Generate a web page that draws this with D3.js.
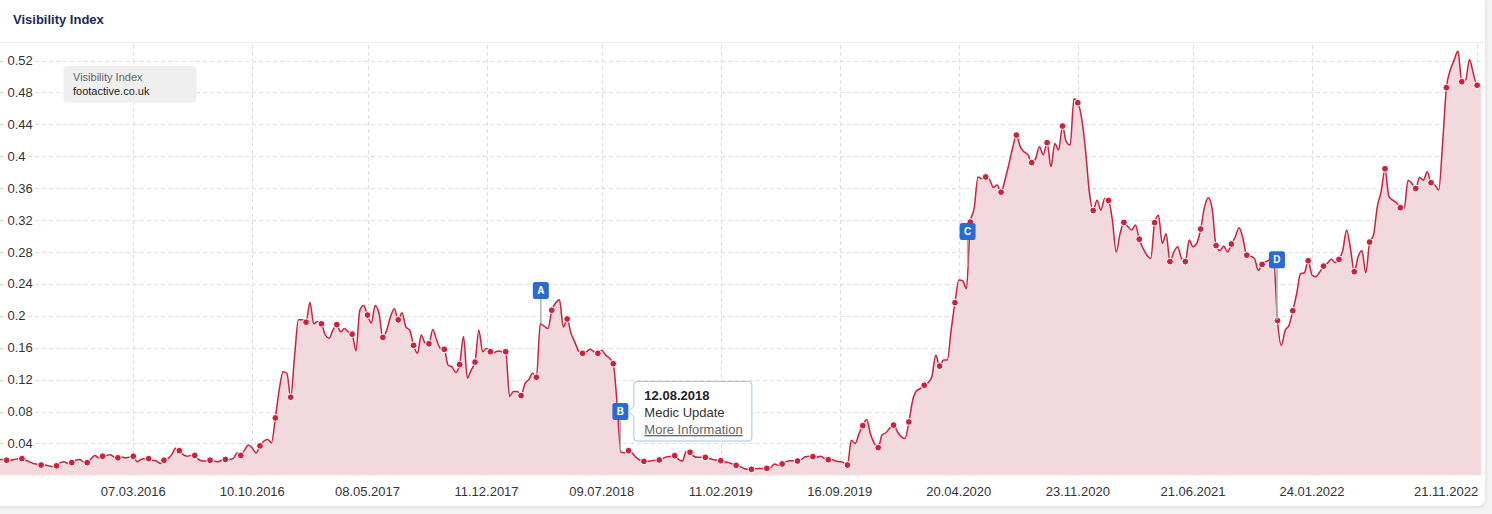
<!DOCTYPE html>
<html><head><meta charset="utf-8">
<script src="https://cdn.jsdelivr.net/npm/d3@7"></script>
<style>
html,body{margin:0;padding:0;background:#f3f3f3;overflow:hidden;}
svg{display:block;font-family:"Liberation Sans",Arial,Helvetica,sans-serif;}
</style></head><body>
<svg id="c" width="1492" height="514"></svg>
<script>
// ---------------- DATA ----------------
const chartTitle = "Visibility Index";
const seriesName = "Visibility Index";
const domainName = "footactive.co.uk";
const firstWeek = "2015-07-06";   // weekly values, one per Monday
const visibility = [
0.020,0.020,0.019,0.019,0.020,0.021,0.021,0.019,0.017,0.015,
0.014,0.013,0.013,0.012,0.011,0.012,0.016,0.017,0.015,0.016,
0.019,0.020,0.017,0.016,0.021,0.025,0.022,0.024,0.025,0.026,
0.023,0.022,0.023,0.022,0.023,0.024,0.017,0.020,0.021,0.021,
0.019,0.018,0.015,0.019,0.021,0.026,0.034,0.031,0.026,0.024,
0.025,0.025,0.020,0.018,0.018,0.019,0.018,0.017,0.019,0.020,
0.020,0.021,0.028,0.025,0.032,0.038,0.034,0.028,0.037,0.043,
0.045,0.041,0.072,0.107,0.130,0.128,0.098,0.149,0.195,0.195,
0.192,0.217,0.190,0.193,0.190,0.176,0.172,0.182,0.189,0.180,
0.184,0.180,0.177,0.156,0.207,0.213,0.201,0.191,0.213,0.203,
0.173,0.182,0.199,0.209,0.195,0.204,0.186,0.182,0.163,0.153,
0.176,0.166,0.165,0.183,0.170,0.159,0.158,0.138,0.136,0.129,
0.139,0.174,0.122,0.132,0.142,0.182,0.155,0.159,0.155,0.154,
0.156,0.155,0.155,0.099,0.105,0.105,0.100,0.115,0.120,0.128,
0.123,0.190,0.187,0.184,0.207,0.216,0.220,0.186,0.196,0.178,
0.167,0.156,0.153,0.155,0.158,0.155,0.153,0.157,0.151,0.147,
0.140,0.090,0.029,0.0285,0.031,0.0276,0.0226,0.019,0.0176,0.0176,
0.0185,0.019,0.0193,0.0214,0.0235,0.024,0.0247,0.020,0.018,0.030,
0.029,0.024,0.0226,0.0226,0.0226,0.0213,0.020,0.019,0.0184,0.0172,
0.016,0.0143,0.0126,0.011,0.0088,0.0076,0.0076,0.0084,0.0088,0.0088,
0.0089,0.010,0.0143,0.0126,0.0143,0.0172,0.0185,0.0185,0.018,0.020,
0.0235,0.024,0.0235,0.0226,0.024,0.0213,0.0197,0.020,0.018,0.0172,
0.016,0.013,0.044,0.040,0.052,0.0623,0.070,0.052,0.040,0.0348,
0.0506,0.0535,0.059,0.063,0.055,0.0485,0.0464,0.067,0.0945,0.106,
0.109,0.113,0.116,0.124,0.151,0.137,0.1445,0.1445,0.182,0.2165,
0.245,0.244,0.234,0.3175,0.3346,0.374,0.372,0.374,0.371,0.361,
0.364,0.355,0.370,0.389,0.410,0.4265,0.412,0.4056,0.402,0.392,
0.397,0.412,0.402,0.417,0.387,0.416,0.408,0.4378,0.418,0.414,
0.472,0.467,0.4475,0.408,0.355,0.332,0.345,0.3325,0.347,0.3445,
0.320,0.280,0.303,0.317,0.312,0.3075,0.3137,0.296,0.2845,0.276,
0.272,0.3168,0.326,0.2908,0.303,0.268,0.280,0.2866,0.272,0.268,
0.295,0.2866,0.291,0.3088,0.3365,0.348,0.334,0.288,0.2816,0.2875,
0.280,0.290,0.299,0.3105,0.297,0.276,0.2747,0.272,0.257,0.2644,
0.268,0.270,0.270,0.194,0.163,0.182,0.188,0.2064,0.228,0.253,
0.254,0.269,0.251,0.249,0.255,0.2623,0.266,0.271,0.2666,0.2707,
0.282,0.3075,0.2845,0.2553,0.274,0.2815,0.254,0.2924,0.301,0.337,
0.3555,0.3843,0.350,0.345,0.3418,0.3355,0.3346,0.370,0.366,0.3597,
0.3735,0.370,0.3806,0.3668,0.364,0.3577,0.416,0.486,0.508,0.5205,
0.532,0.4934,0.4955,0.5214,0.504,0.489,0.489
];
// weeks (index into visibility) that carry a marker dot
const markerWeeks = [2,6,11,15,19,23,27,31,35,39,43,47,51,55,59,63,68,72,76,80,
84,88,92,96,100,104,108,112,116,120,124,128,132,136,140,144,148,152,156,160,
164,168,172,176,180,184,188,192,196,200,204,208,212,216,221,225,229,233,237,241,
245,249,253,257,261,265,269,273,277,281,285,289,293,297,301,305,309,313,317,321,
325,329,333,337,341,345,349,353,357,361,365,369,373,377,381,385];
const xTickDates = ["2016-03-07","2016-10-10","2017-05-08","2017-12-11","2018-07-09",
"2019-02-11","2019-09-16","2020-04-20","2020-11-23","2021-06-21","2022-01-24","2022-11-21"];
const yTicks = [0.04,0.08,0.12,0.16,0.2,0.24,0.28,0.32,0.36,0.4,0.44,0.48,0.52];
// event flags
const flagLabels = ["A","B","C","D"];
const flagDates  = ["2018-03-20","2018-08-12","2020-05-06","2021-11-21"];
const flagTops   = [0.221,0.0694,0.295,0.2595];   // value at bottom of flag box
const flagBases  = [0.191,0.0318,0.2615,0.1947];  // value where the pole ends
const tipFlag = "B";
const tipDate = "12.08.2018";
const tipTitle = "Medic Update";
const tipLink = "More Information";

// ---------------- DRAW ----------------
const W = 1492, H = 514;
const svg = d3.select("#c");
const parse = d3.utcParse("%Y-%m-%d");
const fmt = d3.utcFormat("%d.%m.%Y");

const start = parse(firstWeek);
const data = visibility.map((v,i)=>({date:d3.utcDay.offset(start, i*7), v, i}));

const plotL = 0, plotR = 1483, plotTop = 43, plotBottom = 475.4;
const x = d3.scaleUtc()
  .domain([new Date(Date.UTC(2015,6,8)), new Date(Date.UTC(2022,11,1,16))])
  .range([plotL, plotR]);
const y = d3.scaleLinear().domain([0,0.52]).range([plotBottom, 60.5]);

const defs = svg.append("defs");
const sh = defs.append("filter").attr("id","sh").attr("x","-5%").attr("y","-5%").attr("width","110%").attr("height","115%");
sh.append("feDropShadow").attr("dx",0).attr("dy",1).attr("stdDeviation",2).attr("flood-color","#000").attr("flood-opacity",0.10);
defs.append("clipPath").attr("id","clip").append("rect")
  .attr("x",plotL).attr("y",plotTop).attr("width",plotR-plotL).attr("height",plotBottom-plotTop);

svg.append("rect").attr("width",W).attr("height",H).attr("fill","#f3f3f3");
svg.append("rect").attr("x",-8).attr("y",-8).attr("width",1493).attr("height",514)
  .attr("rx",8).attr("fill","#fff").attr("filter","url(#sh)");

svg.append("text").attr("x",13).attr("y",24).attr("font-size",13).attr("font-weight","bold")
  .attr("fill","#1c2a5c").text(chartTitle);
svg.append("line").attr("x1",0).attr("x2",1485).attr("y1",42.5).attr("y2",42.5)
  .attr("stroke","#ececec");

// grid
const grid = svg.append("g");
grid.selectAll("line.h").data(yTicks).join("line")
  .attr("x1",plotL).attr("x2",plotR)
  .attr("y1",d=>Math.round(y(d))+0.5).attr("y2",d=>Math.round(y(d))+0.5)
  .attr("stroke","#dedede").attr("stroke-dasharray","4,3");
grid.selectAll("line.v").data(xTickDates).join("line")
  .attr("x1",d=>Math.round(x(parse(d)))+0.5).attr("x2",d=>Math.round(x(parse(d)))+0.5)
  .attr("y1",plotTop+2).attr("y2",plotBottom)
  .attr("stroke","#dedede").attr("stroke-dasharray","4,3");

// series
const g = svg.append("g").attr("clip-path","url(#clip)");
const area = d3.area().x(d=>x(d.date)).y0(y(0)).y1(d=>y(d.v)).curve(d3.curveMonotoneX);
const line = d3.line().x(d=>x(d.date)).y(d=>y(d.v)).curve(d3.curveMonotoneX);
g.append("path").datum(data).attr("d",area).attr("fill","#f2d9de");
g.append("path").datum(data).attr("d",line).attr("fill","none")
  .attr("stroke","#c8233f").attr("stroke-width",1.5).attr("stroke-linejoin","round");
g.selectAll("circle").data(markerWeeks.map(i=>data[i])).join("circle")
  .attr("cx",d=>x(d.date)).attr("cy",d=>y(d.v)).attr("r",3.4)
  .attr("fill","#c8233f").attr("stroke","#fff").attr("stroke-width",1);

// y axis labels
const yl = svg.append("g");
yl.selectAll("text").data(yTicks).join("text")
  .attr("x",7.5).attr("y",d=>y(d)).attr("dy","0.35em")
  .attr("font-size",13).attr("fill","#333")
  .attr("stroke","#fff").attr("stroke-width",3).attr("paint-order","stroke")
  .text(d=>d3.format("~g")(d));

// x axis labels
const xl = svg.append("g");
xl.selectAll("text").data(xTickDates).join("text")
  .attr("x",(d,i)=> i===xTickDates.length-1 ? x(parse(d))+1 : x(parse(d)))
  .attr("y",496)
  .attr("text-anchor",(d,i)=> i===xTickDates.length-1 ? "end" : "middle")
  .attr("font-size",13).attr("fill","#333")
  .text(d=>fmt(parse(d)));

// legend box
svg.append("rect").attr("x",63.5).attr("y",66).attr("width",133).attr("height",36.5)
  .attr("rx",4).attr("fill","#efefef");
svg.append("text").attr("x",73).attr("y",81).attr("font-size",11).attr("fill","#666").text(seriesName);
svg.append("text").attr("x",73).attr("y",95).attr("font-size",11).attr("fill","#222").text(domainName);

// flags
const flags = flagLabels.map((l,i)=>({l, date:parse(flagDates[i]), top:flagTops[i], base:flagBases[i]}));
const fg = svg.append("g");
fg.selectAll("line").data(flags).join("line")
  .attr("x1",d=>x(d.date)).attr("x2",d=>x(d.date))
  .attr("y1",d=>y(d.top)).attr("y2",d=>y(d.base))
  .attr("stroke","#b0b0b0").attr("stroke-width",1.5);
fg.selectAll("rect").data(flags).join("rect")
  .attr("x",d=>x(d.date)-8).attr("y",d=>y(d.top)-17).attr("width",16).attr("height",17)
  .attr("rx",2.5).attr("fill","#2a6ad3");
fg.selectAll("text").data(flags).join("text")
  .attr("x",d=>x(d.date)).attr("y",d=>y(d.top)-5)
  .attr("text-anchor","middle").attr("font-size",10).attr("font-weight","bold")
  .attr("fill","#fff").text(d=>d.l);

// tooltip for event flag
const tf = flags.find(f=>f.l===tipFlag);
const fx = x(tf.date), fcy = y(tf.top)-8.5;
const bx = fx+13.5, bw = 118, bh = 59.5, by = fcy-30, r = 3;
const tipPath = `M${bx+r},${by} H${bx+bw-r} Q${bx+bw},${by} ${bx+bw},${by+r} V${by+bh-r} Q${bx+bw},${by+bh} ${bx+bw-r},${by+bh} H${bx+r} Q${bx},${by+bh} ${bx},${by+bh-r} V${fcy+5} L${bx-5},${fcy} L${bx},${fcy-5} V${by+r} Q${bx},${by} ${bx+r},${by} Z`;
const tg = svg.append("g");
tg.append("path").attr("d",tipPath).attr("fill","#fff").attr("stroke","#9fc5f2").attr("stroke-width",1);
tg.append("text").attr("x",bx+10.5).attr("y",by+18.5).attr("font-size",13).attr("font-weight","bold")
  .attr("fill","#222").text(tipDate);
tg.append("text").attr("x",bx+10.5).attr("y",by+35.5).attr("font-size",13).attr("fill","#333").text(tipTitle);
tg.append("text").attr("x",bx+10.5).attr("y",by+52.5).attr("font-size",13).attr("fill","#666")
  .attr("text-decoration","underline").text(tipLink);
</script>
</body></html>
